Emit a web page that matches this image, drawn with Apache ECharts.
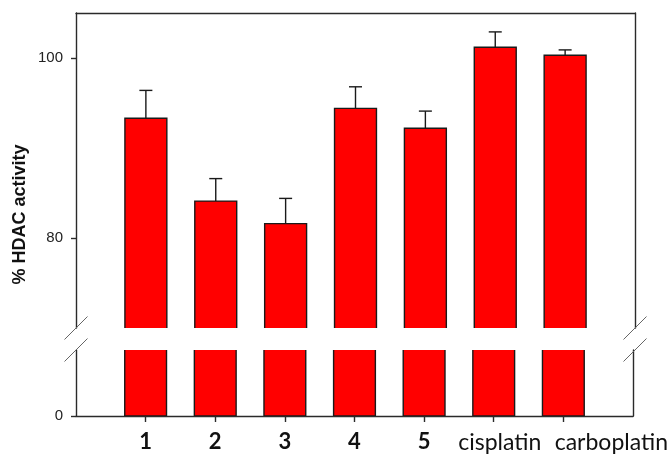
<!DOCTYPE html>
<html>
<head>
<meta charset="utf-8">
<script src="https://cdn.jsdelivr.net/npm/echarts@6/dist/echarts.min.js"></script>
<style>
html,body{margin:0;padding:0;background:#fff;}
#chart{width:671px;height:456px;}
</style>
</head>
<body>
<div id="chart"></div>
<script>
// ---- data ----
const categories = ['1', '2', '3', '4', '5', 'cisplatin', 'carboplatin'];
const values = [93.3, 84.1, 81.6, 94.4, 92.2, 101.2, 100.3];
const errors = [3.1, 2.5, 2.8, 2.4, 1.9, 1.7, 0.6];
const upperTicks = [80, 100];
const lowerTicks = [0];
const UPPER_MIN = 70, UPPER_MAX = 105;
const LOWER_MIN = 0, LOWER_MAX = 10;

// ---- layout ----
const W = 671, H = 456;
const L = 76, R = 36;
const UP_TOP = 13, UP_BOTTOM = 128;
const LO_TOP = 350, LO_BOTTOM = 40;
const AX = '#2a2a2a';
const EDGE = '#1a1a1a';
const RED = '#ff0000';

const axisCats = [''].concat(categories, ['']);
const data = categories.map((c, i) => [i + 1, values[i], errors[i]]);

function upperItem(params, api) {
  const x = api.value(0), v = api.value(1), e = api.value(2);
  const bw = api.size([1, 0])[0] * 0.6;
  const top = api.coord([x, v]);
  const base = api.coord([x, UPPER_MIN]);
  const et = api.coord([x, v + e]);
  const l = top[0] - bw / 2, r = top[0] + bw / 2;
  return {
    type: 'group',
    children: [
      {type: 'rect', shape: {x: l, y: top[1], width: bw, height: base[1] - top[1]}, style: {fill: RED}},
      {type: 'polyline', shape: {points: [[l, base[1]], [l, top[1]], [r, top[1]], [r, base[1]]]},
       style: {stroke: EDGE, lineWidth: 1.4, fill: null}},
      {type: 'line', shape: {x1: top[0], y1: top[1], x2: top[0], y2: et[1]}, style: {stroke: EDGE, lineWidth: 1.4}},
      {type: 'line', shape: {x1: top[0] - 6.5, y1: et[1], x2: top[0] + 6.5, y2: et[1]}, style: {stroke: EDGE, lineWidth: 1.4}}
    ]
  };
}

function lowerItem(params, api) {
  const x = api.value(0), v = api.value(1);
  const bw = api.size([1, 0])[0] * 0.6;
  const top = api.coord([x, Math.min(v, LOWER_MAX)]);
  const base = api.coord([x, LOWER_MIN]);
  const l = top[0] - bw / 2, r = top[0] + bw / 2;
  return {
    type: 'group',
    children: [
      {type: 'rect', shape: {x: l, y: top[1], width: bw, height: base[1] - top[1]}, style: {fill: RED}},
      {type: 'polyline', shape: {points: [[l, top[1]], [l, base[1]], [r, base[1]], [r, top[1]]]},
       style: {stroke: EDGE, lineWidth: 1.4, fill: null}}
    ]
  };
}

// break slashes
const yUpEnd = H - UP_BOTTOM, yLoStart = LO_TOP;
const xLeft = L, xRight = W - R;
const s = 11.5;
const breaks = [];
[xLeft, xRight].forEach(xx => {
  [yUpEnd, yLoStart].forEach(yy => {
    breaks.push({type: 'line', z: 100,
      shape: {x1: xx - s, y1: yy + s, x2: xx + s, y2: yy - s},
      style: {stroke: '#666', lineWidth: 1}});
  });
});

const axisLineStyle = {color: AX, width: 1.4};

const chart = echarts.init(document.getElementById('chart'), null, {renderer: 'canvas'});
chart.setOption({
  animation: false,
  backgroundColor: '#fff',
  grid: [
    {left: L, right: R, top: UP_TOP, bottom: UP_BOTTOM},
    {left: L, right: R, top: LO_TOP, bottom: LO_BOTTOM},
    {left: L, right: R, top: UP_TOP, bottom: LO_BOTTOM}
  ],
  xAxis: [
    {gridIndex: 0, type: 'category', data: axisCats, boundaryGap: false, position: 'top',
     axisLine: {onZero: false, lineStyle: axisLineStyle}, axisTick: {show: false}, axisLabel: {show: false}},
    {gridIndex: 1, type: 'category', data: axisCats, boundaryGap: false, position: 'bottom',
     axisLine: {onZero: false, lineStyle: axisLineStyle},
     axisTick: {show: true, length: 6, interval: (idx) => idx > 0 && idx < axisCats.length - 1, lineStyle: axisLineStyle},
     axisLabel: {
       interval: 0, margin: 15,
       formatter: (v) => {
         if (v === '') return '';
         if (v === 'cisplatin') return '{ci|' + v + '}';
         if (v === 'carboplatin') return '{ca|' + v + '}';
         return '{b|' + v + '}';
       },
       rich: {
         b: {fontFamily: 'Lato', fontWeight: 'bold', fontSize: 22, color: '#111'},
         ci: {fontFamily: 'Lato', fontSize: 23, color: '#111', padding: [0, 0, 0, 12]},
         ca: {fontFamily: 'Lato', fontSize: 23, color: '#111', padding: [0, 0, 0, 96]}
       }
     }},
    {gridIndex: 2, type: 'category', data: axisCats, show: false}
  ],
  yAxis: [
    {gridIndex: 0, type: 'value', min: UPPER_MIN, max: UPPER_MAX,
     axisLine: {show: true, lineStyle: axisLineStyle},
     axisTick: {show: true, length: 5, customValues: upperTicks, lineStyle: axisLineStyle},
     axisLabel: {customValues: upperTicks, margin: 13, fontSize: 15, color: '#222', fontFamily: 'Liberation Sans'},
     splitLine: {show: false}},
    {gridIndex: 0, type: 'value', position: 'right', min: UPPER_MIN, max: UPPER_MAX,
     axisLine: {show: true, lineStyle: axisLineStyle}, axisTick: {show: false}, axisLabel: {show: false}, splitLine: {show: false}},
    {gridIndex: 1, type: 'value', min: LOWER_MIN, max: LOWER_MAX,
     axisLine: {show: true, lineStyle: axisLineStyle},
     axisTick: {show: true, length: 5, customValues: lowerTicks, lineStyle: axisLineStyle},
     axisLabel: {customValues: lowerTicks, margin: 13, fontSize: 15, color: '#222', fontFamily: 'Liberation Sans'},
     splitLine: {show: false}},
    {gridIndex: 1, type: 'value', position: 'right', min: LOWER_MIN, max: LOWER_MAX,
     axisLine: {show: true, lineStyle: axisLineStyle}, axisTick: {show: false}, axisLabel: {show: false}, splitLine: {show: false}},
    {gridIndex: 2, type: 'value', name: '% HDAC activity', nameLocation: 'middle', nameGap: 47,
     nameTextStyle: {fontFamily: 'Liberation Sans', fontWeight: 'bold', fontSize: 18, color: '#111'},
     axisLine: {show: false}, axisTick: {show: false}, axisLabel: {show: false}, splitLine: {show: false}}
  ],
  series: [
    {type: 'custom', name: 'upper', xAxisIndex: 0, yAxisIndex: 0, data: data, renderItem: upperItem,
     encode: {x: 0, y: 1}, clip: true, z: 2},
    {type: 'custom', name: 'lower', xAxisIndex: 1, yAxisIndex: 2, data: data, renderItem: lowerItem,
     encode: {x: 0, y: 1}, clip: true, z: 2}
  ],
  graphic: breaks
});
</script>
</body>
</html>
